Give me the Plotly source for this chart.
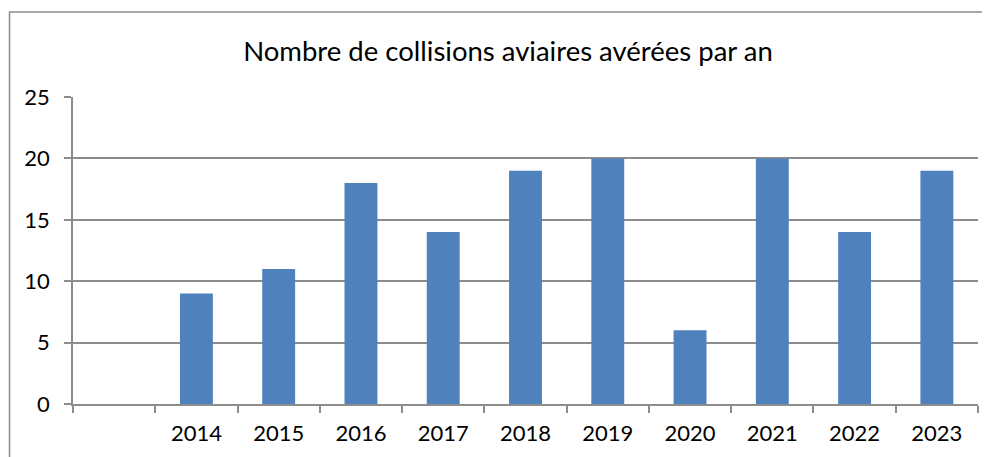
import plotly.graph_objects as go

years = [" ", "2014", "2015", "2016", "2017", "2018", "2019", "2020", "2021", "2022", "2023"]
collisions = [None, 9, 11, 18, 14, 19, 20, 6, 20, 14, 19]
title_text = "Nombre de collisions aviaires avérées par an"

# page body has an 8px margin, so the figure starts at (8, 8)
W, H = 982, 449
L, R, T, B = 65, 12, 89, 53
pw, ph = W - L - R, H - T - B

fig = go.Figure(go.Bar(x=years, y=collisions, marker=dict(color="#4F81BD", line=dict(width=0)), width=0.4))

grid = "#8C8C8C"
font_family = "Lato, 'Open Sans', sans-serif"

fig.update_layout(
    width=W, height=H,
    margin=dict(l=L, r=R, t=T, b=B, pad=0),
    paper_bgcolor="white", plot_bgcolor="white",
    showlegend=False,
    bargap=0.6,
    font=dict(family=font_family, size=22, color="black"),
    title=dict(text=title_text, x=500 / W, xanchor="center", y=1 - 43 / H, yanchor="middle",
               font=dict(size=27.5, color="black", family=font_family)),
    xaxis=dict(type="category", categoryorder="array", categoryarray=years,
               showline=True, linecolor=grid, linewidth=1.5, showgrid=False,
               ticks="outside", tickson="boundaries", ticklen=7, tickcolor=grid, tickwidth=1.5,
               ticklabelstandoff=9, tickfont=dict(size=22), fixedrange=True),
    yaxis=dict(range=[0, 25], tickvals=[0, 5, 10, 15, 20, 25], showline=True, linecolor=grid, linewidth=1.5,
               showgrid=True, gridcolor=grid, gridwidth=1.5, zeroline=False,
               ticks="outside", ticklen=7, tickcolor=grid, tickwidth=1.5,
               ticklabelstandoff=10, tickfont=dict(size=22), fixedrange=True),
)

# outer chart border
x0 = (1.5 - L) / pw
x1 = (W + 10 - L) / pw
y1 = (H - B - 4) / ph
y0 = (H - B - (H + 10)) / ph
fig.add_shape(type="rect", xref="paper", yref="paper", x0=x0, x1=x1, y0=y0, y1=y1,
              line=dict(color=grid, width=1.5), fillcolor="rgba(0,0,0,0)", layer="below")

fig.write_html("out.html")
